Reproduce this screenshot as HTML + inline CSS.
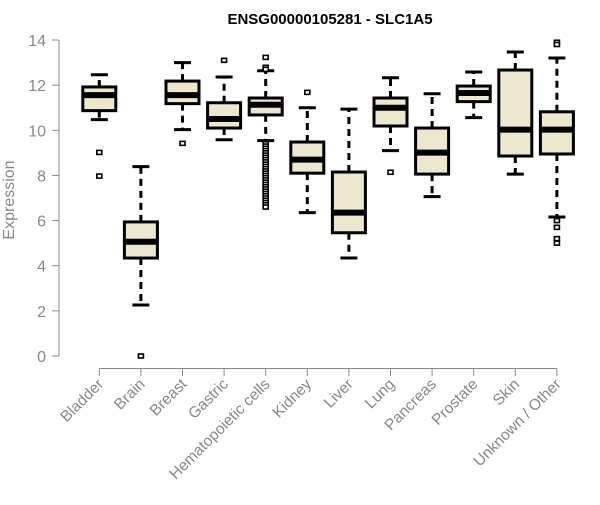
<!DOCTYPE html>
<html><head><meta charset="utf-8"><style>
body{margin:0;background:#fff;}
svg text{font-family:"Liberation Sans",Arial,sans-serif;}
</style></head><body>
<svg id="chart" width="600" height="500" xmlns="http://www.w3.org/2000/svg">
<text x="330" y="24" text-anchor="middle" font-size="15" font-weight="bold">ENSG00000105281 - SLC1A5</text>
<text transform="translate(14,200) rotate(-90)" text-anchor="middle" font-size="16" fill="#888">Expression</text>
<g id="axes"></g><g id="boxes"></g>
</svg>
<script>
const categories=["Bladder","Brain","Breast","Gastric","Hematopoietic cells","Kidney","Liver","Lung","Pancreas","Prostate","Skin","Unknown / Other"];
const lowWhisker=[10.47,2.26,10.03,9.58,9.54,6.35,4.34,9.1,7.06,10.56,8.06,6.16];
const q1=[10.87,4.34,11.18,10.1,10.68,8.1,5.46,10.19,8.06,11.27,8.86,8.95];
const medians=[11.56,5.06,11.56,10.5,11.13,8.7,6.35,11.0,9.01,11.65,10.03,10.03];
const q3=[11.92,5.94,12.18,11.22,11.43,9.48,8.15,11.43,10.1,11.96,12.67,10.82];
const highWhisker=[12.46,8.39,13.0,12.36,12.64,11.0,10.94,12.33,11.62,12.58,13.47,13.2];
const outliers=[[9.02,7.97],[0],[9.42],[13.1],[13.23,12.79,12.7,9.4,9.3,9.2,9.1,9.0,8.9,8.8,8.7,8.6,8.5,8.4,8.3,8.2,8.1,8.0,7.9,7.8,7.7,7.6,7.5,7.4,7.3,7.2,7.1,7.0,6.9,6.8,6.7,6.6],[11.68],[],[8.14],[],[],[],[13.9,13.8,6.0,5.7,5.2,5.0]];
const yTicks=[0,2,4,6,8,10,12,14];
const NS="http://www.w3.org/2000/svg";
const y=v=>356-v*(316/14);
const x=i=>99.3+i*41.6;
function mk(t,a,p){const e=document.createElementNS(NS,t);for(const k in a)e.setAttribute(k,a[k]);p.appendChild(e);return e;}
const ax=document.getElementById('axes'),bx=document.getElementById('boxes');
let l=mk('line',{x1:59,x2:59,y1:y(14),y2:y(0),stroke:'#888','stroke-width':1},ax);


yTicks.forEach(t=>{
 let tk=mk('line',{x1:52,x2:59,y1:y(t),y2:y(t),stroke:'#888'},ax);
 
 
 let tx=mk('text',{x:46,y:y(t)+6,'text-anchor':'end','font-size':16,fill:'#888'},ax);
 tx.textContent=t;
 
 
});
l=mk('line',{x1:x(0),x2:x(11),y1:368.5,y2:368.5,stroke:'#888'},ax);


categories.forEach((c,i)=>{
 const cx=x(i);
 let tk=mk('line',{x1:cx,x2:cx,y1:368.5,y2:376,stroke:'#888'},ax);
 
 
 let tx=mk('text',{x:cx+5,y:385,'text-anchor':'end','font-size':15.5,fill:'#888',transform:`rotate(-45 ${cx+5} 385)`},ax);
 tx.textContent=c;
 
 
 const g=mk('g',{},bx);
 
 
 const sw={stroke:'#000','stroke-width':3,'stroke-dasharray':'7,5'};
 mk('line',Object.assign({x1:cx,x2:cx,y1:y(q3[i]),y2:y(highWhisker[i])},sw),g);
 mk('line',Object.assign({x1:cx,x2:cx,y1:y(q1[i]),y2:y(lowWhisker[i])},sw),g);
 mk('line',{x1:cx-8.5,x2:cx+8.5,y1:y(highWhisker[i]),y2:y(highWhisker[i]),stroke:'#000','stroke-width':3},g);
 mk('line',{x1:cx-8.5,x2:cx+8.5,y1:y(lowWhisker[i]),y2:y(lowWhisker[i]),stroke:'#000','stroke-width':3},g);
 mk('rect',{x:cx-16.5,y:y(q3[i]),width:33,height:y(q1[i])-y(q3[i]),fill:'#ede8cd',stroke:'#000','stroke-width':3},g);
 mk('line',{x1:cx-16.5,x2:cx+16.5,y1:y(medians[i]),y2:y(medians[i]),stroke:'#000','stroke-width':6},g);
 outliers[i].forEach(o=>{
  let p=mk('rect',{x:cx-2.5,y:y(o)-2,width:5,height:4,fill:'#fff',stroke:'#000','stroke-width':1.6},g);
  
  
 });
});
</script>
</body></html>
